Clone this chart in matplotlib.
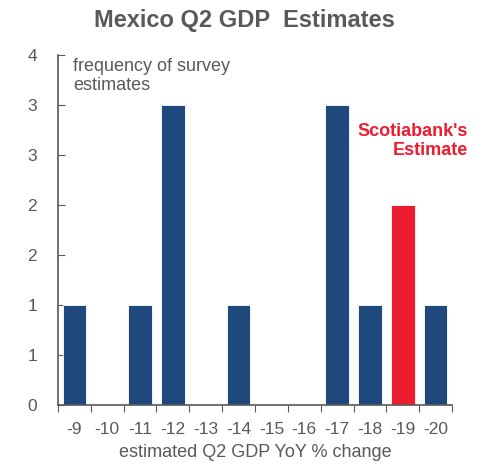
import numpy as np
import matplotlib.pyplot as plt

plt.rcParams['font.family'] = ['Liberation Sans', 'DejaVu Sans']

# datos
categorias = ['-9', '-10', '-11', '-12', '-13', '-14', '-15', '-16', '-17', '-18', '-19', '-20']
frecuencia = [1, 0, 1, 3, 0, 1, 0, 0, 3, 1, 2, 1]
ytick_vals = [0, 0.5, 1, 1.5, 2, 2.5, 3, 3.5]
ytick_labels = ['0', '1', '1', '2', '2', '3', '3', '4']

gris = '#595959'
azul = '#1F497D'
rojo = '#ED1C2E'

colores = [rojo if c == '-19' else azul for c in categorias]

fig = plt.figure(figsize=(4.87, 4.66), dpi=100)
ax = fig.add_axes([58 / 487, 1 - 405 / 466, (452 - 58) / 487, (405 - 55) / 466])

x = np.arange(len(categorias))
ax.bar(x, frecuencia, width=0.72, color=colores, edgecolor='white', linewidth=0.6, zorder=2)

ax.set_xlim(-0.5, len(categorias) - 0.5)
ax.set_ylim(0, 3.5)

# ticks del eje x en los bordes de cada categoria
ax.set_xticks(np.arange(-0.5, len(categorias), 1))
ax.set_xticklabels([])
ax.set_xticks(x, minor=True)
ax.set_xticklabels(categorias, minor=True, fontsize=12.5, color=gris)
ax.tick_params(axis='x', which='major', direction='out', length=5, color=gris)
ax.tick_params(axis='x', which='minor', length=0, pad=12)

ax.set_yticks(ytick_vals)
ax.set_yticklabels(ytick_labels, fontsize=12.5, color=gris)
ax.tick_params(axis='y', direction='in', length=5, color=gris, pad=15)

for lado in ['top', 'right']:
    ax.spines[lado].set_visible(False)
for lado in ['left', 'bottom']:
    ax.spines[lado].set_color(gris)
    ax.spines[lado].set_linewidth(1.2)

ax.set_xlabel('estimated Q2 GDP YoY % change', fontsize=13, color=gris, labelpad=5)

fig.text(244 / 487, 1 - 20 / 466, 'Mexico Q2 GDP  Estimates', ha='center', va='center',
         fontsize=17, fontweight='bold', color=gris)
fig.text(73 / 487, 1 - 76 / 466, 'frequency of survey\nestimates', ha='left', va='center',
         fontsize=13, color=gris, linespacing=1.1)
fig.text(468 / 487, 1 - 141 / 466, "Scotiabank's\nEstimate", ha='right', va='center',
         fontsize=13, fontweight='bold', color=rojo, linespacing=1.2)

fig.savefig('out.png', dpi=100)
